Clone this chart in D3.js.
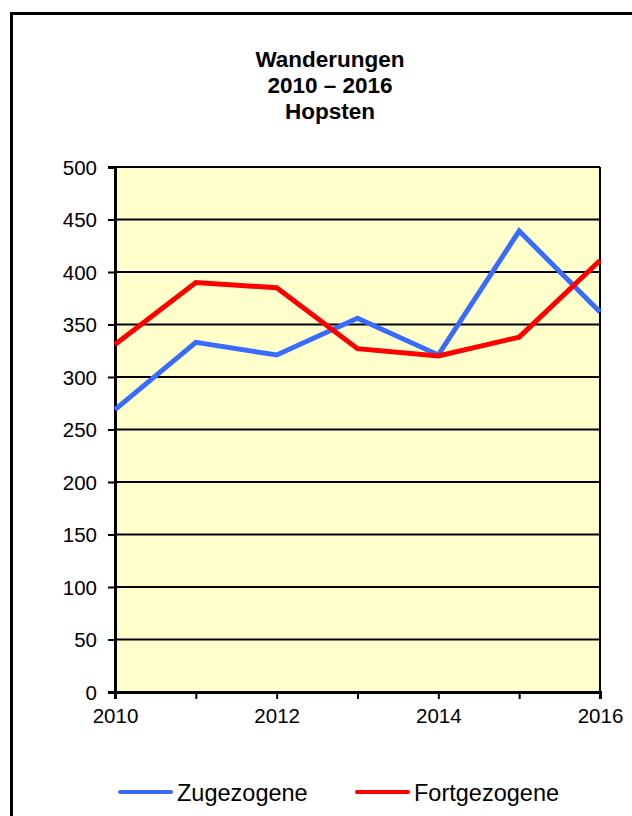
<!DOCTYPE html>
<meta charset="utf-8">
<style>
    body { margin: 0; background: #fff; }
    text { font-family: Arial, "Liberation Sans", sans-serif; fill: #000; }
</style>
<body>
<script src="https://cdn.jsdelivr.net/npm/d3@7"></script>
<script>
    var years = [2010, 2011, 2012, 2013, 2014, 2015, 2016];
    var zugezogene = [269, 333, 321, 356, 321, 439, 362];
    var fortgezogene = [331, 390, 385, 327, 320, 338, 411];
    var yTicks = [0, 50, 100, 150, 200, 250, 300, 350, 400, 450, 500];
    var xLabels = [2010, 2012, 2014, 2016];
    var titleLines = ["Wanderungen", "2010 \u2013 2016", "Hopsten"];
    var seriesNames = ["Zugezogene", "Fortgezogene"];
    var seriesColors = ["#3a6bff", "#ff0000"];

    var width = 632, height = 816;
    var plotLeft = 115, plotRight = 600, plotTop = 167, plotBottom = 692;

    var svg = d3.select("body").append("svg")
        .attr("width", width)
        .attr("height", height);

    // outer frame, runs off the right and bottom edge
    svg.append("rect")
        .attr("x", 11.5).attr("y", 13.5)
        .attr("width", 700).attr("height", 900)
        .attr("fill", "none")
        .attr("stroke", "#000")
        .attr("stroke-width", 3);

    svg.selectAll(".title")
        .data(titleLines)
        .enter().append("text")
        .attr("class", "title")
        .attr("x", 330)
        .attr("y", function (d, i) { return 67 + i * 26; })
        .attr("text-anchor", "middle")
        .style("font-size", "22.5px")
        .style("font-weight", "bold")
        .text(function (d) { return d; });

    var x = d3.scaleLinear().domain([2010, 2016]).range([plotLeft, plotRight]);
    var y = d3.scaleLinear().domain([0, 500]).range([plotBottom, plotTop]);

    svg.append("rect")
        .attr("x", plotLeft).attr("y", plotTop)
        .attr("width", plotRight - plotLeft).attr("height", plotBottom - plotTop)
        .attr("fill", "#ffffcc");

    // grid lines
    svg.selectAll(".grid")
        .data(yTicks.filter(function (d) { return d > 0; }))
        .enter().append("line")
        .attr("x1", plotLeft).attr("x2", plotRight)
        .attr("y1", function (d) { return y(d); })
        .attr("y2", function (d) { return y(d); })
        .attr("stroke", "#000")
        .attr("stroke-width", 2);

    svg.append("line")
        .attr("x1", plotRight).attr("x2", plotRight)
        .attr("y1", plotTop).attr("y2", plotBottom)
        .attr("stroke", "#000").attr("stroke-width", 2);

    var yAxis = svg.append("g")
        .attr("transform", "translate(" + plotLeft + ",0)")
        .call(d3.axisLeft(y).tickValues(yTicks).tickSize(7).tickPadding(11));

    var xAxis = svg.append("g")
        .attr("transform", "translate(0," + plotBottom + ")")
        .call(d3.axisBottom(x).tickValues(years).tickSize(7).tickPadding(9)
            .tickFormat(function (d) { return xLabels.indexOf(d) >= 0 ? d : ""; }));

    [yAxis, xAxis].forEach(function (g) {
        g.select(".domain").attr("stroke", "#000").attr("stroke-width", 3);
        g.selectAll(".tick line").attr("stroke", "#000").attr("stroke-width", 2);
        g.selectAll("text")
            .style("font-family", "Arial, 'Liberation Sans', sans-serif")
            .style("font-size", "20.5px")
            .attr("fill", "#000");
    });
    yAxis.selectAll("text").attr("dy", "0.36em");

    var line = d3.line()
        .x(function (d, i) { return x(years[i]); })
        .y(function (d) { return y(d); });

    [zugezogene, fortgezogene].forEach(function (vals, i) {
        svg.append("path")
            .datum(vals)
            .attr("d", line)
            .attr("fill", "none")
            .attr("stroke", seriesColors[i])
            .attr("stroke-width", 5)
            .attr("stroke-linejoin", "miter");
    });

    // legend
    var legendX = [118, 355];
    var legend = svg.selectAll(".legend")
        .data(seriesNames)
        .enter().append("g")
        .attr("transform", function (d, i) { return "translate(" + legendX[i] + ",792)"; });

    legend.append("line")
        .attr("x1", 2).attr("x2", 53)
        .attr("stroke", function (d, i) { return seriesColors[i]; })
        .attr("stroke-width", 4)
        .attr("stroke-linecap", "round");

    legend.append("text")
        .attr("x", 59)
        .attr("y", 9)
        .style("font-size", "23.5px")
        .text(function (d) { return d; });
</script>
</body>
